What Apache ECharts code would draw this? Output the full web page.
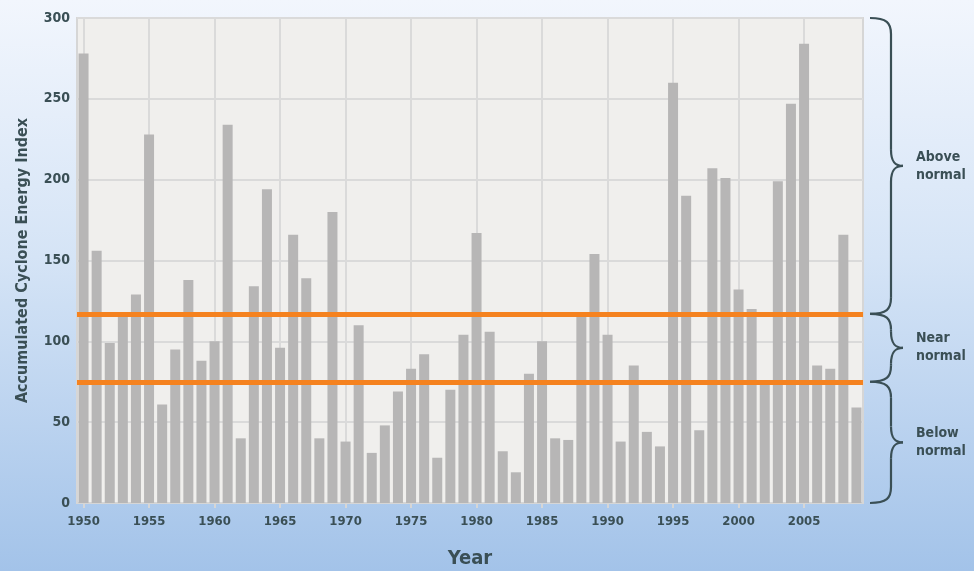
<!DOCTYPE html>
<html>
<head>
<meta charset="utf-8">
<title>Accumulated Cyclone Energy Index</title>
<script src="https://cdn.jsdelivr.net/npm/echarts@6/dist/echarts.min.js"></script>
<style>
  html, body { margin: 0; padding: 0; }
  #main { width: 974px; height: 571px; }
</style>
</head>
<body>
<div id="main"></div>
<script>
// data
const years = [];
for (let y = 1950; y <= 2009; y++) years.push(y);
const aceValues = [
  278, 156, 99, 116, 129, 228, 61, 95, 138, 88,
  100, 234, 40, 134, 194, 96, 166, 139, 40, 180,
  38, 110, 31, 48, 69, 83, 92, 28, 70, 104,
  167, 106, 32, 19, 80, 100, 40, 39, 116, 154,
  104, 38, 85, 44, 35, 260, 190, 45, 207, 201,
  132, 120, 73, 199, 247, 284, 85, 83, 166, 59
];
const yearTicks = [1950, 1955, 1960, 1965, 1970, 1975, 1980, 1985, 1990, 1995, 2000, 2005];
const thresholds = [117, 75];
const bands = [
  { name: 'Above\nnormal', from: 300, to: 117 },
  { name: 'Near\nnormal', from: 117, to: 75 },
  { name: 'Below\nnormal', from: 75, to: 0 }
];

const textColor = '#3a4f55';
const font = 'DejaVu Sans Condensed';

let chartDom = document.getElementById('main');
let myChart = echarts.init(chartDom);

let option = {
  animation: false,
  backgroundColor: {
    type: 'linear', x: 0, y: 0, x2: 0, y2: 1,
    colorStops: [
      { offset: 0, color: '#f2f6fd' },
      { offset: 0.45, color: '#d5e4f6' },
      { offset: 1, color: '#a3c3e9' }
    ]
  },
  grid: {
    left: 77, right: 111, top: 18, bottom: 68,
    outerBoundsMode: 'none',
    containLabel: false,
    show: true,
    backgroundColor: '#f0efed',
    borderColor: '#d6d6d6',
    borderWidth: 2
  },
  xAxis: {
    type: 'value',
    min: 1949.5,
    max: 2009.5,
    name: 'Year',
    nameLocation: 'middle',
    nameGap: 46,
    nameTextStyle: { color: textColor, fontFamily: font, fontWeight: 'bold', fontSize: 20 },
    axisLine: { show: true, lineStyle: { color: '#d6d6d6', width: 2 } },
    axisTick: { show: true, customValues: yearTicks, length: 5, lineStyle: { color: '#d6d6d6', width: 2 } },
    axisLabel: {
      customValues: yearTicks,
      formatter: v => String(v),
      color: textColor, fontFamily: font, fontWeight: 'bold', fontSize: 13, margin: 12
    },
    splitLine: { show: true, lineStyle: { color: '#dadada', width: 2 } }
  },
  yAxis: {
    type: 'value',
    min: 0,
    max: 300,
    interval: 50,
    name: 'Accumulated Cyclone Energy Index',
    nameLocation: 'middle',
    nameGap: 46,
    nameRotate: 90,
    nameTextStyle: { color: textColor, fontFamily: font, fontWeight: 'bold', fontSize: 16 },
    axisLine: { show: false },
    axisTick: { show: false },
    axisLabel: { color: textColor, fontFamily: font, fontWeight: 'bold', fontSize: 14, margin: 7 },
    splitLine: { show: true, lineStyle: { color: '#dadada', width: 2 } }
  },
  series: [
    {
      type: 'bar',
      barWidth: 10,
      itemStyle: { color: '#b7b6b6' },
      data: years.map((y, i) => [y, aceValues[i]]),
      markLine: {
        silent: true,
        symbol: 'none',
        label: { show: false },
        lineStyle: { color: '#f5821f', width: 5, type: 'solid' },
        data: thresholds.map(v => ({ yAxis: v }))
      }
    }
  ]
};

option && myChart.setOption(option);

// curly braces on the right, placed from the axis scale
const braceStyle = { fill: 'none', stroke: '#3a4f55', lineWidth: 2.2 };
function brace(x0, y1, y2) {
  const w = 21, tip = 12;
  const ym = (y1 + y2) / 2;
  const r = Math.min(16, (y2 - y1) / 4);
  const xv = x0 + w;
  return [
    { type: 'bezierCurve', shape: { x1: x0, y1: y1, cpx1: x0 + w * 0.8, cpy1: y1, cpx2: xv, cpy2: y1 + r * 0.3, x2: xv, y2: y1 + r }, style: braceStyle },
    { type: 'line', shape: { x1: xv, y1: y1 + r, x2: xv, y2: ym - r }, style: braceStyle },
    { type: 'bezierCurve', shape: { x1: xv, y1: ym - r, cpx1: xv, cpy1: ym - r * 0.2, cpx2: xv + tip * 0.4, cpy2: ym, x2: xv + tip, y2: ym }, style: braceStyle },
    { type: 'bezierCurve', shape: { x1: xv + tip, y1: ym, cpx1: xv + tip * 0.4, cpy1: ym, cpx2: xv, cpy2: ym + r * 0.2, x2: xv, y2: ym + r }, style: braceStyle },
    { type: 'line', shape: { x1: xv, y1: ym + r, x2: xv, y2: y2 - r }, style: braceStyle },
    { type: 'bezierCurve', shape: { x1: xv, y1: y2 - r, cpx1: xv, cpy1: y2 - r * 0.3, cpx2: x0 + w * 0.8, cpy2: y2, x2: x0, y2: y2 }, style: braceStyle }
  ];
}

let braceX = myChart.convertToPixel({ xAxisIndex: 0 }, 2009.5) + 7;
let graphics = [];
bands.forEach(b => {
  let y1 = myChart.convertToPixel({ yAxisIndex: 0 }, b.from);
  let y2 = myChart.convertToPixel({ yAxisIndex: 0 }, b.to);
  graphics.push({ type: 'group', children: brace(braceX, y1, y2) });
  graphics.push({
    type: 'text',
    x: braceX + 46,
    y: (y1 + y2) / 2,
    style: {
      text: b.name,
      fill: textColor,
      font: 'bold 14px "DejaVu Sans Condensed"',
      lineHeight: 18,
      verticalAlign: 'middle'
    }
  });
});
myChart.setOption({ graphic: graphics });
</script>
</body>
</html>
